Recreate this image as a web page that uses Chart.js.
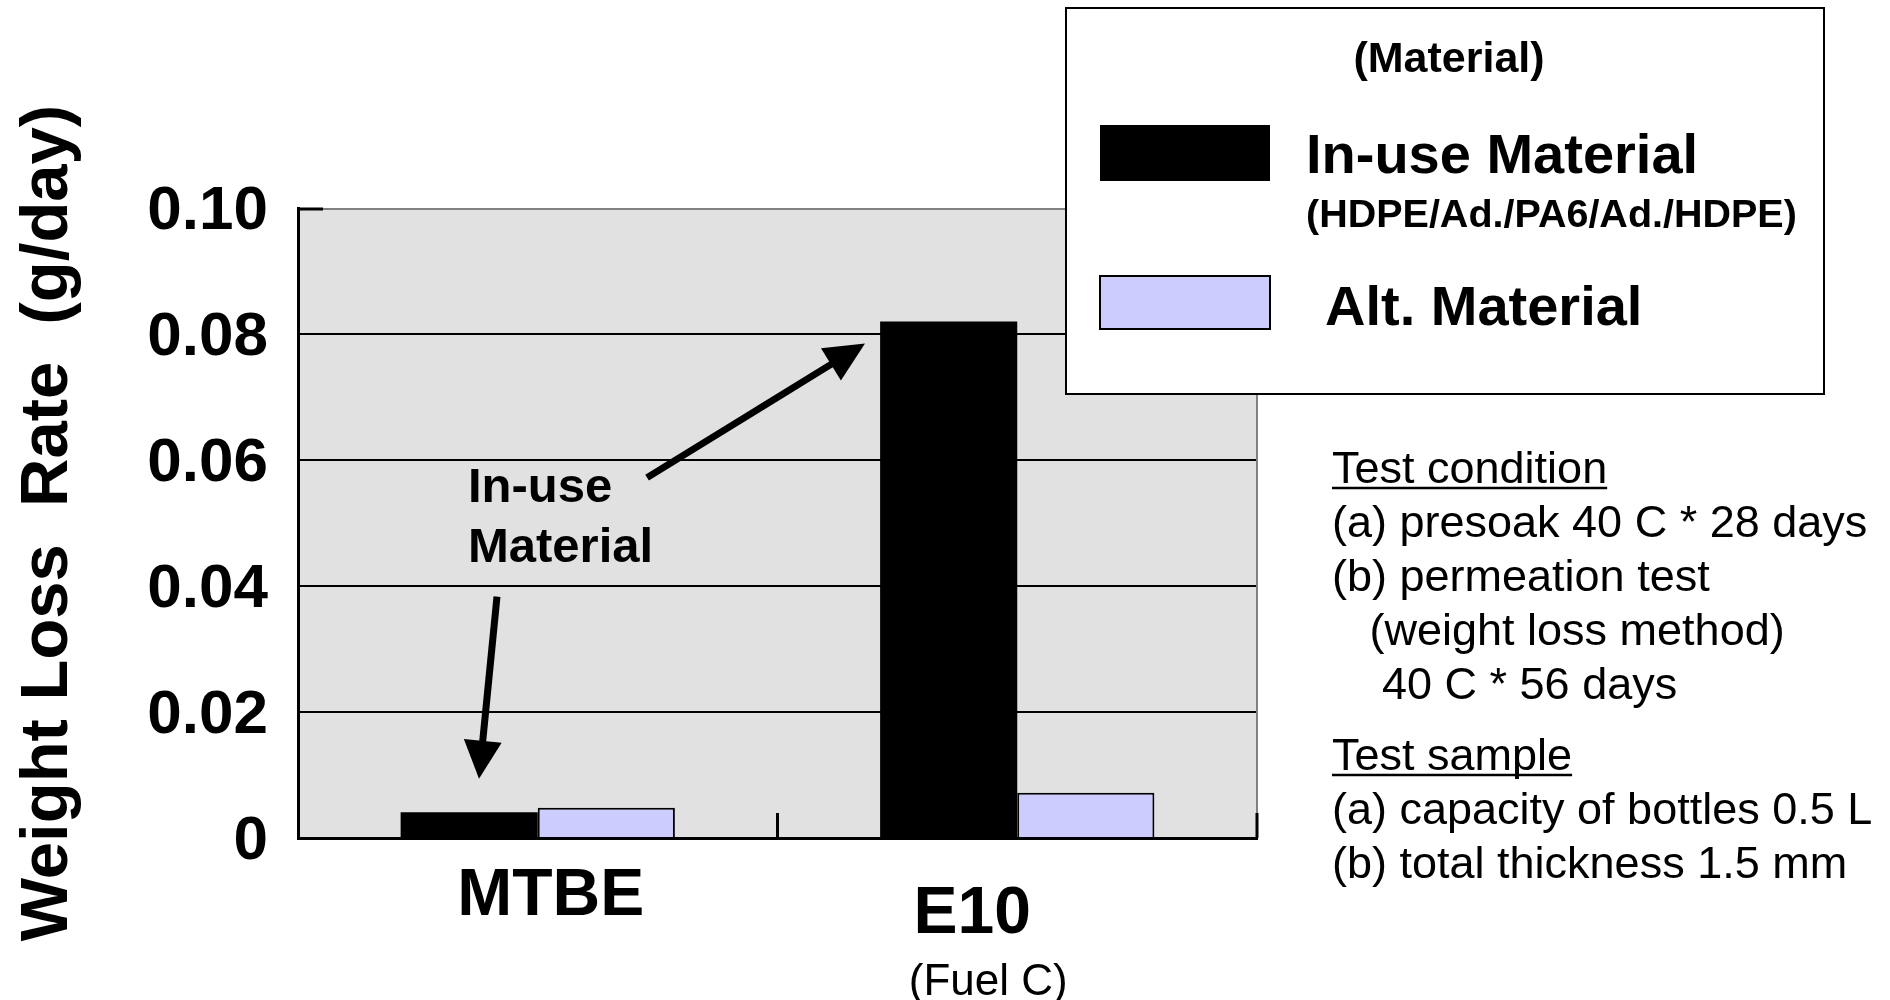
<!DOCTYPE html>
<html>
<head>
<meta charset="utf-8">
<script src="https://cdn.jsdelivr.net/npm/chart.js@4.4.1/dist/chart.umd.min.js"></script>
<style>
html,body{margin:0;padding:0;background:#fff;}
#wrap{width:1890px;height:1000px;position:relative;}
canvas{display:block;}
</style>
</head>
<body>
<div id="wrap"><canvas id="c" width="1890" height="1000"></canvas></div>
<script>
// ---------- data ----------
const categories = ['MTBE', 'E10'];
const categorySubLabels = ['', '(Fuel C)'];
const seriesNames = ['In-use Material', 'Alt. Material'];
const seriesNotes = ['(HDPE/Ad./PA6/Ad./HDPE)', ''];
const inUseValues = [0.0041, 0.0820];
const altValues = [0.0048, 0.0072];
const yTickValues = [0, 0.02, 0.04, 0.06, 0.08, 0.10];
const yTickLabels = ['0', '0.02', '0.04', '0.06', '0.08', '0.10'];
const yTitle = 'Weight Loss  Rate  (g/day)';
const legendTitle = '(Material)';
const annotationLines = ['In-use', 'Material'];
const conditionLines = ['Test condition', '(a) presoak 40 C * 28 days', '(b) permeation test', '   (weight loss method)', '    40 C * 56 days'];
const sampleLines = ['Test sample', '(a) capacity of bottles 0.5 L', '(b) total thickness 1.5 mm'];

// ---------- styling ----------
const FONT = '"Liberation Sans", Arial, Helvetica, sans-serif';
Chart.defaults.font.family = FONT;
Chart.defaults.color = '#000';
const colInUse = '#000000';
const colAlt = '#ccccff';

// annotation anchors in data space: [category position, value]
const annot = {
  text: [-0.1455, 0.0533],
  up: {from: [0.228, 0.0572], to: [0.6825, 0.0785]},
  down: {from: [-0.085, 0.0383], to: [-0.1225, 0.0094]}
};

function xAt(chart, c) {
  const xs = chart.scales.x;
  const p0 = xs.getPixelForValue(0), p1 = xs.getPixelForValue(1);
  return p0 + c * (p1 - p0);
}
function yAt(chart, v) { return chart.scales.y.getPixelForValue(v); }

function arrow(ctx, x1, y1, x2, y2, w, headLen, headW) {
  const ang = Math.atan2(y2 - y1, x2 - x1);
  const bx = x2 - headLen * Math.cos(ang), by = y2 - headLen * Math.sin(ang);
  ctx.lineWidth = w;
  ctx.lineCap = 'butt';
  ctx.beginPath(); ctx.moveTo(x1, y1); ctx.lineTo(bx + Math.cos(ang) * 2, by + Math.sin(ang) * 2); ctx.stroke();
  ctx.beginPath();
  ctx.moveTo(x2, y2);
  ctx.lineTo(bx + headW * Math.sin(ang), by - headW * Math.cos(ang));
  ctx.lineTo(bx - headW * Math.sin(ang), by + headW * Math.cos(ang));
  ctx.closePath(); ctx.fill();
}

const decor = {
  id: 'decor',
  beforeDraw(chart) {
    const {ctx, chartArea: a} = chart;
    ctx.save();
    ctx.fillStyle = '#e1e1e1';
    ctx.fillRect(a.left, a.top, a.right - a.left, a.bottom - a.top);
    ctx.restore();
  },
  afterDatasetsDraw(chart) {
    const {ctx, chartArea: a} = chart;
    ctx.save();
    // gray top & right frame
    ctx.strokeStyle = '#808080';
    ctx.lineWidth = 2;
    ctx.beginPath();
    ctx.moveTo(a.left, a.top + 1); ctx.lineTo(a.right, a.top + 1);
    ctx.moveTo(a.right, a.top); ctx.lineTo(a.right, a.bottom);
    ctx.stroke();
    // inward ticks
    ctx.strokeStyle = '#000';
    ctx.lineWidth = 3;
    ctx.beginPath();
    const ty = yAt(chart, yTickValues[yTickValues.length - 1]) + 1;
    ctx.moveTo(a.left - 1, ty); ctx.lineTo(a.left + 25, ty);
    const mid = xAt(chart, 0.5);
    ctx.moveTo(mid, a.bottom); ctx.lineTo(mid, a.bottom - 25);
    ctx.moveTo(a.right, a.bottom); ctx.lineTo(a.right, a.bottom - 25);
    ctx.stroke();

    // annotation
    ctx.fillStyle = '#000';
    ctx.strokeStyle = '#000';
    ctx.font = 'bold 49px ' + FONT;
    ctx.textAlign = 'left';
    ctx.textBaseline = 'alphabetic';
    const tx = xAt(chart, annot.text[0]), tyy = yAt(chart, annot.text[1]);
    annotationLines.forEach((l, i) => ctx.fillText(l, tx, tyy + i * 60));
    arrow(ctx, xAt(chart, annot.up.from[0]), yAt(chart, annot.up.from[1]),
               xAt(chart, annot.up.to[0]), yAt(chart, annot.up.to[1]), 7, 40, 19);
    arrow(ctx, xAt(chart, annot.down.from[0]), yAt(chart, annot.down.from[1]),
               xAt(chart, annot.down.to[0]), yAt(chart, annot.down.to[1]), 7, 38, 19);
    ctx.restore();
  },
  afterDraw(chart) {
    const {ctx} = chart;
    ctx.save();
    ctx.fillStyle = '#000';
    // category labels
    ctx.textAlign = 'center';
    ctx.textBaseline = 'alphabetic';
    const catOffsets = [13, -45];
    const catBaselines = [915, 933];
    categories.forEach((c, i) => {
      const cx = chart.scales.x.getPixelForValue(i);
      ctx.font = 'bold 66px ' + FONT;
      ctx.fillText(c, cx + catOffsets[i], catBaselines[i]);
      if (categorySubLabels[i]) {
        ctx.font = '44px ' + FONT;
        ctx.fillText(categorySubLabels[i], cx + catOffsets[i] + 16, 995);
      }
    });

    // legend box
    ctx.fillStyle = '#fff';
    ctx.fillRect(1066, 8, 758, 386);
    ctx.strokeStyle = '#000';
    ctx.lineWidth = 2;
    ctx.strokeRect(1066, 8, 758, 386);
    ctx.fillStyle = '#000';
    ctx.textAlign = 'center';
    ctx.font = 'bold 43px ' + FONT;
    ctx.fillText(legendTitle, 1449, 72);
    const ds = chart.data.datasets;
    // item 1
    ctx.fillStyle = ds[0].backgroundColor;
    ctx.fillRect(1100, 125, 170, 56);
    ctx.fillStyle = '#000';
    ctx.textAlign = 'left';
    ctx.font = 'bold 56px ' + FONT;
    ctx.fillText(ds[0].label, 1306, 173);
    ctx.font = 'bold 39.5px ' + FONT;
    ctx.fillText(seriesNotes[0], 1306, 227);
    // item 2
    ctx.fillStyle = ds[1].backgroundColor;
    ctx.fillRect(1100, 276, 170, 53);
    ctx.strokeStyle = '#000';
    ctx.lineWidth = 2;
    ctx.strokeRect(1100, 276, 170, 53);
    ctx.fillStyle = '#000';
    ctx.font = 'bold 56px ' + FONT;
    ctx.fillText(ds[1].label, 1325, 325);

    // test notes
    ctx.font = '45px ' + FONT;
    ctx.lineWidth = 2.5;
    const drawBlock = (lines, y0, step) => {
      lines.forEach((l, i) => {
        const y = y0 + i * step;
        ctx.fillText(l, 1332, y);
        if (i === 0) {
          const w = ctx.measureText(l).width;
          ctx.beginPath(); ctx.moveTo(1332, y + 5); ctx.lineTo(1332 + w, y + 5); ctx.stroke();
        }
      });
    };
    drawBlock(conditionLines, 483, 53.9);
    drawBlock(sampleLines, 770, 54.2);
    ctx.restore();
  }
};

new Chart(document.getElementById('c'), {
  type: 'bar',
  data: {
    labels: categories,
    datasets: [
      {label: seriesNames[0], data: inUseValues, backgroundColor: colInUse, borderWidth: 0,
       categoryPercentage: 0.572, barPercentage: 1.0},
      {label: seriesNames[1], data: altValues, backgroundColor: colAlt, borderColor: '#000', borderWidth: 2,
       categoryPercentage: 0.572, barPercentage: 1.0}
    ]
  },
  options: {
    responsive: false,
    animation: false,
    devicePixelRatio: 1,
    layout: {padding: {left: 0, top: 208, right: 633, bottom: 0}},
    plugins: {legend: {display: false}, tooltip: {enabled: false}},
    scales: {
      x: {
        grid: {display: false},
        border: {display: true, color: '#000', width: 3},
        ticks: {display: false},
        afterFit: s => { s.height = 162; }
      },
      y: {
        min: 0, max: 0.1,
        afterBuildTicks: s => { s.ticks = yTickValues.map(v => ({value: v})); },
        grid: {
          drawTicks: false,
          lineWidth: 2,
          color: c => (c.tick && c.tick.value === yTickValues[yTickValues.length - 1]) ? 'rgba(0,0,0,0)' : '#000'
        },
        border: {display: true, color: '#000', width: 3},
        ticks: {
          padding: 30,
          font: {size: 62, weight: 'bold'},
          color: '#000',
          labelOffset: c => {
            const v = c.tick ? c.tick.value : null;
            if (v === yTickValues[yTickValues.length - 1]) return 11;
            if (v === 0) return 6;
            return 4;
          },
          callback: (v, i) => yTickLabels[i]
        },
        title: {
          display: true,
          text: yTitle,
          font: {size: 67, weight: 'bold'},
          color: '#000',
          padding: {top: 8, bottom: 0}
        },
        afterFit: s => { s.width = 298; }
      }
    }
  },
  plugins: [decor]
});
</script>
</body>
</html>
